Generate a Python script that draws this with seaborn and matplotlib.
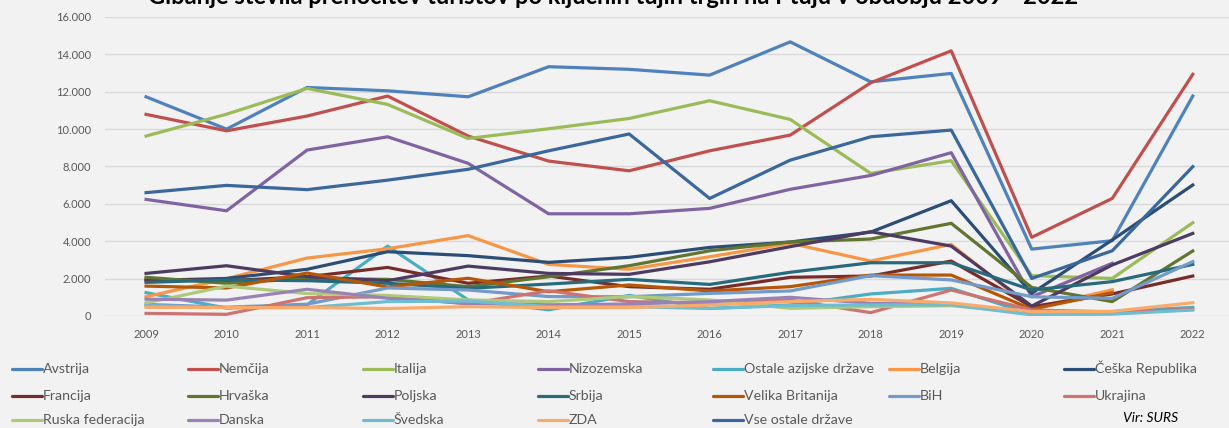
import numpy as np
import pandas as pd
import seaborn as sns
import matplotlib.pyplot as plt
from matplotlib.lines import Line2D
from matplotlib.ticker import FuncFormatter

nan = np.nan

years = list(range(2009, 2023))

avstrija = [11730, 10000, 12230, 12050, 11730, 13340, 13200, 12890, 14670, 12530, 12980, 3580, 4030, 11770]
nemcija = [10790, 9910, 10700, 11770, 9630, 8290, 7770, 8840, 9680, 12480, 14190, 4210, 6290, 12930]
italija = [9630, 10800, 12180, 11320, 9500, 10020, 10570, 11520, 10520, 7630, 8310, 2160, 2010, 4990]
nizozemska = [6240, 5630, 8880, 9590, 8170, 5470, 5470, 5760, 6780, 7520, 8740, 1030, 2820, nan]
ostale_azijske = [1250, 420, 600, 3740, 860, 330, 1100, 410, 590, 1180, 1480, 90, 230, 460]
belgija = [1030, 2000, 3100, 3600, 4300, 2760, 2500, 3170, 3890, 2940, 3830, 410, 1400, nan]
ceska = [1900, 2010, 2500, 3440, 3230, 2870, 3140, 3670, 3960, 4490, 6170, 1210, 4070, 7010]
francija = [1960, 1890, 2100, 2600, 1750, 2140, 1570, 1430, 2070, 2140, 2940, 500, 1180, 2140]
hrvaska = [2070, 1750, 2010, 1960, 1570, 2100, 2690, 3490, 3960, 4120, 4960, 1530, 770, 3480]
poljska = [2280, 2690, 2100, 1890, 2670, 2280, 2230, 2900, 3710, 4510, 3740, 530, 2730, 4420]
srbija = [1800, 1930, 1890, 1750, 1480, 1710, 1960, 1690, 2340, 2850, 2850, 1390, 1840, 2760]
velika_britanija = [1600, 1500, 2300, 1550, 2020, 1300, 1660, 1340, 1570, 2190, 2190, 360, 1250, nan]
bih = [620, 470, 630, 1500, 1390, 1040, 1030, 1210, 1340, 2160, 1930, 1030, 945, 2910]
ukrajina = [140, 90, 980, 1030, 650, 1350, 770, 700, 850, 180, 1390, 320, 220, 350]
ruska = [700, 1600, 1200, 1100, 860, 770, 1040, 860, 410, 500, 550, 150, 200, nan]
danska = [900, 850, 1430, 950, 680, 600, 640, 770, 1000, 680, 640, 200, nan, nan]
svedska = [550, 450, 450, 770, 800, 500, 500, 400, 560, 590, 600, 60, 100, 320]
zda = [460, 450, 450, 400, 500, 450, 450, 590, 770, 890, 700, 230, 250, 710]
vse_ostale = [6600, 6990, 6760, 7270, 7850, 8840, 9740, 6290, 8340, 9590, 9950, 2010, 3490, 7990]

countries = ["Avstrija", "Nemčija", "Italija", "Nizozemska", "Ostale azijske države",
             "Belgija", "Češka Republika", "Francija", "Hrvaška", "Poljska", "Srbija",
             "Velika Britanija", "BiH", "Ukrajina", "Ruska federacija", "Danska",
             "Švedska", "ZDA", "Vse ostale države"]
series = [avstrija, nemcija, italija, nizozemska, ostale_azijske, belgija, ceska,
          francija, hrvaska, poljska, srbija, velika_britanija, bih, ukrajina,
          ruska, danska, svedska, zda, vse_ostale]
colors = ["#4F81BD", "#C0504D", "#9BBB59", "#8064A2", "#4BACC6", "#F79646", "#2C4D75",
          "#772C2A", "#5F7530", "#4D3B62", "#276A7C", "#B65708", "#729ACA", "#CD7371",
          "#AFC97A", "#9983B5", "#6FBDD1", "#F9AB6B", "#3A679C"]
palette = dict(zip(countries, colors))

rows = []
for name, vals in zip(countries, series):
    for y, v in zip(years, vals):
        rows.append({"Leto": y, "Država": name, "Prenočitve": v})
df = pd.DataFrame(rows)

plt.rcParams["font.family"] = ["Lato", "DejaVu Sans"]
bg = "#F2F2F2"
W, H = 1229, 428
fig = plt.figure(figsize=(12.29, 4.28), dpi=100, facecolor=bg)
ax = fig.add_axes([105 / W, 112 / H, 1 - 105 / W, 299 / H])
ax.set_facecolor(bg)

sns.lineplot(data=df, x="Leto", y="Prenočitve", hue="Država", hue_order=countries,
             palette=palette, linewidth=2.3, legend=False, ax=ax, sort=False)

ax.set_xlim(2008.49, 2022.45)
ax.set_ylim(0, 16000)
ax.set_yticks(range(0, 16001, 2000))
ax.yaxis.set_major_formatter(FuncFormatter(lambda v, p: f"{int(v):,}".replace(",", ".")))
ax.set_xticks(years)
ax.grid(axis="y", color="#D9D9D9", linewidth=1)
ax.set_axisbelow(True)
for s in ax.spines.values():
    s.set_visible(False)
ax.tick_params(length=0, colors="#595959", labelsize=8)
ax.tick_params(axis="y", pad=10)
ax.tick_params(axis="x", pad=9)
ax.set_xlabel("")
ax.set_ylabel("")

fig.text(613 / W, 1 - 4 / H, "Gibanje števila prenočitev turistov po ključnih tujih trgih na Ptuju v obdobju 2009 - 2022",
         ha="center", va="baseline", fontsize=17, fontweight="bold", color="#000000")

# legend drawn by hand: 7 columns, filled row by row like in Excel
col_x = [12, 188, 363, 538, 713, 889, 1064]
row_y = [369, 396, 420]
for i, name in enumerate(countries):
    cx = col_x[i % 7]
    cy = row_y[i // 7]
    fig.add_artist(Line2D([cx / W, (cx + 30) / W], [1 - cy / H, 1 - cy / H],
                          transform=fig.transFigure, color=colors[i], linewidth=2.3,
                          solid_capstyle="round"))
    fig.text((cx + 31) / W, 1 - (cy + 4) / H, name, ha="left", va="baseline",
             fontsize=10.2, color="#595959")

fig.text(1151 / W, 1 - 418 / H, "Vir: SURS", ha="center", va="center",
         fontsize=10, fontstyle="italic", color="#000000")

fig.savefig("out.png", dpi=100, facecolor=bg)
